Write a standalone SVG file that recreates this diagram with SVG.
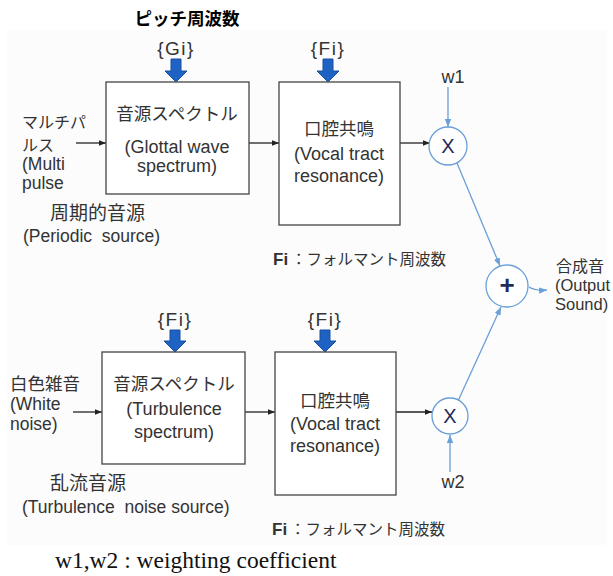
<svg xmlns="http://www.w3.org/2000/svg" width="613" height="576" viewBox="0 0 613 576">
<defs>
<style>
text{font-family:"Liberation Sans","Noto Sans CJK JP",sans-serif;fill:#333}
.jp{font-family:"Noto Sans CJK JP",sans-serif}
.box{fill:#fff;stroke:#444;stroke-width:1.3}
.m{font-size:18px;text-anchor:middle}
.jm{font-size:17.5px;text-anchor:middle}
.cap{font-size:17.5px;white-space:pre}
.jcap{font-size:19px}
.blk{stroke:#222;stroke-width:1.3;fill:none}
.blu{stroke:#6a9fd8;stroke-width:1.3;fill:none}
.circ{fill:#fff;stroke:#6a9fd8;stroke-width:1.3}
.op{font-size:20px;text-anchor:middle;fill:#1f2b5c}
.ba{fill:#1e62c4;stroke:#174f9e;stroke-width:1}
.br{font-size:19px;text-anchor:middle;letter-spacing:1.5px}
</style>
<marker id="ak" viewBox="0 0 10 10" refX="10" refY="5" markerWidth="7" markerHeight="7" markerUnits="userSpaceOnUse" orient="auto"><path d="M0,1 L10,5 L0,9 z" fill="#222"/></marker>
<marker id="ab" viewBox="0 0 10 10" refX="10" refY="5" markerWidth="8" markerHeight="8" markerUnits="userSpaceOnUse" orient="auto"><path d="M0,1 L10,5 L0,9 z" fill="#6a9fd8"/></marker>
</defs>
<rect x="0" y="0" width="613" height="576" fill="#fff"/>
<rect x="7" y="30" width="600" height="515" fill="#fcfcfc"/>

<text x="187" y="25" class="jp" font-size="17.5" font-weight="bold" text-anchor="middle" style="fill:#000">ピッチ周波数</text>

<g id="connectors">
<line class="blk" x1="76" y1="143" x2="106" y2="143" marker-end="url(#ak)"/>
<line class="blk" x1="249" y1="143" x2="279" y2="143" marker-end="url(#ak)"/>
<line class="blk" x1="400" y1="143" x2="430" y2="143" marker-end="url(#ak)"/>
<line class="blk" x1="73" y1="412" x2="102" y2="412" marker-end="url(#ak)"/>
<line class="blk" x1="245" y1="412" x2="275" y2="412" marker-end="url(#ak)"/>
<line class="blk" x1="396" y1="412" x2="432" y2="412" marker-end="url(#ak)"/>
<line class="blu" x1="448" y1="87" x2="448" y2="127" marker-end="url(#ab)"/>
<line class="blu" x1="450" y1="472" x2="450" y2="435" marker-end="url(#ab)"/>
<line class="blu" x1="457" y1="163" x2="500" y2="266" marker-end="url(#ab)"/>
<line class="blu" x1="458" y1="401" x2="501" y2="307" marker-end="url(#ab)"/>
<path class="blu" d="M529,287 Q535,291 547,290" marker-end="url(#ab)"/>
<path class="ba" d="M171,59 H181 V71 H187 L176,82 L165,71 H171 Z"/>
<path class="ba" d="M323,59 H333 V71 H339 L328,82 L317,71 H323 Z"/>
<path class="ba" d="M170,330 H180 V341 H186 L175,352 L164,341 H170 Z"/>
<path class="ba" d="M320,330 H330 V341 H336 L325,352 L314,341 H320 Z"/>
</g>

<g id="gi"><text class="br" x="176" y="55">{Gi}</text></g>
<g id="fi1"><text class="br" x="328" y="55">{Fi}</text></g>
<g id="fi2"><text class="br" x="175" y="326">{Fi}</text></g>
<g id="fi3"><text class="br" x="325" y="326">{Fi}</text></g>

<g id="multipulse">
<text class="jp" x="22" y="128" font-size="16">マルチパ</text>
<text class="jp" x="22" y="151" font-size="16">ルス</text>
<text class="cap" x="22" y="170">(Multi</text>
<text class="cap" x="22" y="189">pulse</text>
</g>
<g id="periodic">
<text class="jcap jp" x="50" y="220">周期的音源</text>
<text class="cap" x="23" y="242">(Periodic  source)</text>
</g>

<g id="glottal">
<rect class="box" x="106" y="82" width="143" height="112"/>
<text class="jm jp" x="177" y="120">音源スペクトル</text>
<text class="m" x="177" y="153">(Glottal wave</text>
<text class="m" x="177" y="172">spectrum)</text>
</g>

<g id="vocal1">
<rect class="box" x="279" y="82" width="121" height="143"/>
<text class="jm jp" x="339" y="135">口腔共鳴</text>
<text class="m" x="339" y="160">(Vocal tract</text>
<text class="m" x="339" y="182">resonance)</text>
</g>

<g id="fnote1"><text x="273" y="265" font-size="17" font-weight="bold">Fi</text><text class="jp" x="291" y="265" font-size="15.5">：フォルマント周波数</text></g>

<g id="w1"><text x="453" y="83" font-size="18" text-anchor="middle">w1</text></g>
<g id="mul1">
<circle class="circ" cx="448" cy="146" r="19"/>
<text class="op" x="448" y="153">X</text>
</g>

<g id="sum">
<circle class="circ" cx="507" cy="286" r="21"/>
<text class="op" x="507" y="294" style="font-size:26px;font-weight:bold">+</text>
</g>
<g id="output">
<text class="jp" x="556" y="272" font-size="16">合成音</text>
<text x="555" y="291" font-size="16.5">(Output</text>
<text x="555" y="310" font-size="16.5">Sound)</text>
</g>

<g id="whitenoise">
<text class="jp" x="10" y="390" font-size="17.5">白色雑音</text>
<text class="cap" x="10" y="410">(White</text>
<text class="cap" x="10" y="430">noise)</text>
</g>

<g id="turb">
<rect class="box" x="102" y="352" width="143" height="112"/>
<text class="jm jp" x="174" y="390">音源スペクトル</text>
<text class="m" x="174" y="415">(Turbulence</text>
<text class="m" x="174" y="438">spectrum)</text>
</g>
<g id="turbsrc">
<text class="jcap jp" x="50" y="490">乱流音源</text>
<text class="cap" x="22" y="513">(Turbulence  noise source)</text>
</g>

<g id="vocal2">
<rect class="box" x="275" y="352" width="121" height="143"/>
<text class="jm jp" x="335" y="407">口腔共鳴</text>
<text class="m" x="335" y="430">(Vocal tract</text>
<text class="m" x="335" y="452">resonance)</text>
</g>

<g id="mul2">
<circle class="circ" cx="450" cy="416" r="18"/>
<text class="op" x="450" y="423">X</text>
</g>
<g id="w2"><text x="453" y="488" font-size="18" text-anchor="middle">w2</text></g>

<g id="fnote2"><text x="272" y="535" font-size="17" font-weight="bold">Fi</text><text class="jp" x="290" y="535" font-size="15.5">：フォルマント周波数</text></g>

<g id="legend"><text x="55" y="568" font-size="23.5" style="font-family:'Liberation Serif',serif;fill:#111">w1,w2 : weighting coefficient</text></g>
</svg>
